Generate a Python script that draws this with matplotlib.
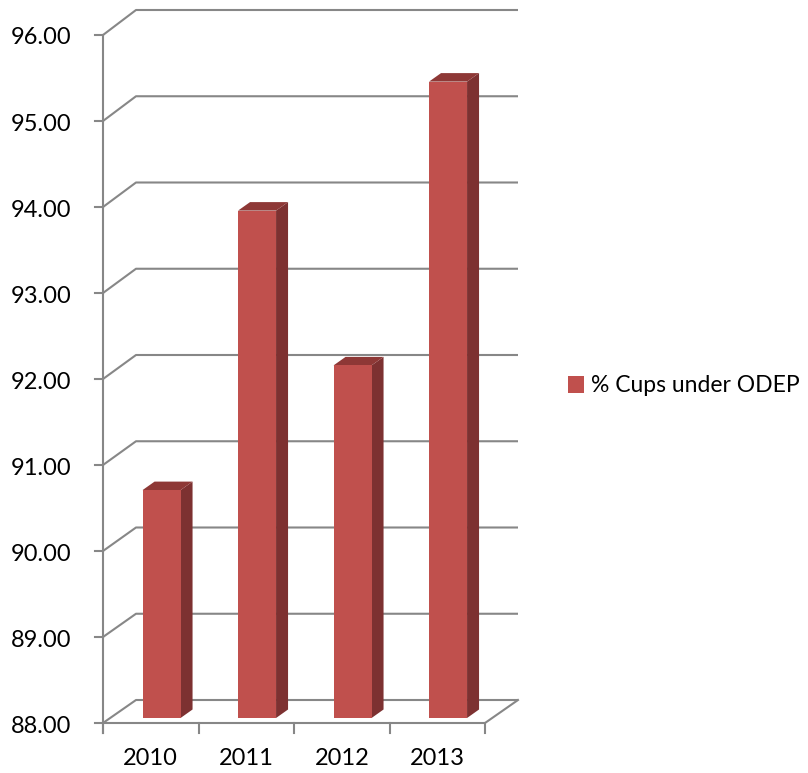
import matplotlib.pyplot as plt
from matplotlib.patches import Polygon, Patch

# Data
years = ["2010", "2011", "2012", "2013"]
cups_under_odep = [90.65, 93.90, 92.10, 95.40]
series_name = "% Cups under ODEP"
y_ticks = [88, 89, 90, 91, 92, 93, 94, 95, 96]

plt.rcParams["font.family"] = ["Lato", "DejaVu Sans"]

W, H = 808, 773
fig = plt.figure(figsize=(W / 100, H / 100), dpi=100)
# front plane of the 3d box, in pixels
left, right, bottom, top = 103, 485, 723, 35
ax = fig.add_axes([left / W, (H - bottom) / H, (right - left) / W, (bottom - top) / H])
ymin, ymax = y_ticks[0], y_ticks[-1]
ax.set_xlim(-0.5, len(years) - 0.5)
ax.set_ylim(ymin, ymax)
ax.axis("off")

px_x = (right - left) / len(years)   # pixels per category
px_y = (bottom - top) / (ymax - ymin)  # pixels per unit

grid_c = "#878787"
lw = 1.5
front_c = "#C0504D"
side_c = "#7D3131"
top_c = "#8E3836"

# wall depth offset (slight perspective: deeper at top)
wall_dx = 33 / px_x


def wall_dy(v):
    return (23 + 2 * (v - ymin) / (ymax - ymin)) / px_y


x0, x1 = -0.5, len(years) - 0.5
for v in y_ticks:
    dy = wall_dy(v)
    ax.plot([x0, x0 + wall_dx, x1 + wall_dx], [v, v + dy, v + dy],
            color=grid_c, lw=lw, clip_on=False, zorder=1, solid_capstyle="butt")
    # tick mark on front axis
    ax.plot([x0 - 8 / px_x, x0], [v, v], color=grid_c, lw=lw, clip_on=False, zorder=1)
    ax.text(x0 - 32 / px_x, v - 3 / px_y, f"{v:.2f}", ha="right", va="center",
            fontsize=17, color="black")

# floor front edge and right edge
dy0 = wall_dy(ymin)
ax.plot([x0, x1, x1 + wall_dx], [ymin, ymin, ymin + dy0], color=grid_c, lw=lw,
        clip_on=False, zorder=1)
# front vertical axis, extended below floor
ax.plot([x0, x0], [ymin - 10 / px_y, ymax], color=grid_c, lw=lw, clip_on=False, zorder=1)
# category ticks
for i in range(len(years) + 1):
    ax.plot([i - 0.5, i - 0.5], [ymin - 10 / px_y, ymin], color=grid_c, lw=lw,
            clip_on=False, zorder=1)
for i, yr in enumerate(years):
    ax.text(i, ymin - 35 / px_y, yr, ha="center", va="center", fontsize=17)

# bars
bar_off = 10.8 / px_x
bar_w = 38 / px_x
bar_dx = 12 / px_x
bar_dy = 8.5 / px_y
base = ymin + 5 / px_y
for i, val in enumerate(cups_under_odep):
    xl = i + bar_off - bar_w / 2
    xr = xl + bar_w
    yt = val + 5 / px_y
    ax.add_patch(Polygon([(xr, base), (xr + bar_dx, base + bar_dy),
                          (xr + bar_dx, yt + bar_dy), (xr, yt)],
                         closed=True, fc=side_c, ec="none", clip_on=False, zorder=3))
    ax.add_patch(Polygon([(xl, yt), (xl + bar_dx, yt + bar_dy),
                          (xr + bar_dx, yt + bar_dy), (xr, yt)],
                         closed=True, fc=top_c, ec="none", clip_on=False, zorder=3))
    ax.add_patch(Polygon([(xl, base), (xr, base), (xr, yt), (xl, yt)],
                         closed=True, fc=front_c, ec="none", clip_on=False, zorder=4))

fig.legend(handles=[Patch(facecolor=front_c, edgecolor="none", label=series_name)],
           loc="center left", bbox_to_anchor=(568 / W, (H - 386) / H),
           frameon=False, fontsize=16.5, handlelength=0.7, handleheight=0.7,
           handletextpad=0.3, borderpad=0, borderaxespad=0)

fig.savefig("out.png", dpi=100)
